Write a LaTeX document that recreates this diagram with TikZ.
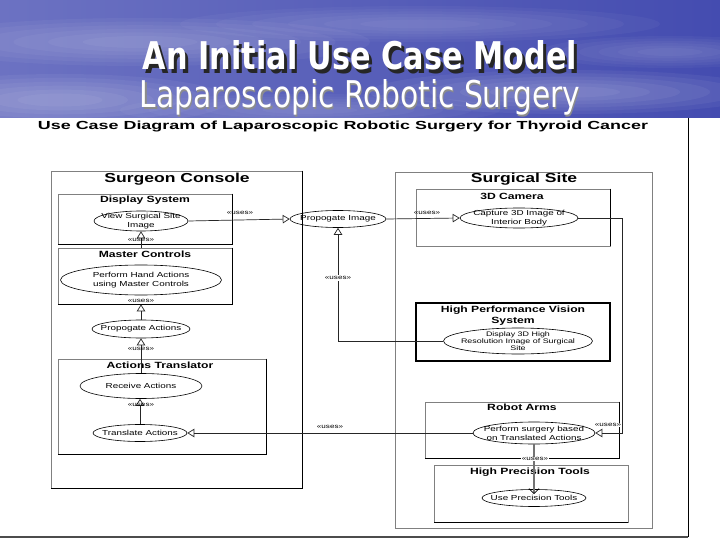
\documentclass[tikz,border=0pt]{standalone}
\usepackage{fontspec}
\setmainfont{Liberation Sans}
\newfontfamily\dg[FakeStretch=1.35]{Liberation Sans}
\newfontfamily\ttlfont{DejaVu Sans}
\usetikzlibrary{shapes.geometric,arrows.meta}
\definecolor{skyL}{RGB}{108,114,194}
\definecolor{skyR}{RGB}{68,76,176}
\newcommand{\shadowtext}[3]{\makebox[0pt][l]{\kern#1\raisebox{-#1}{\color{#2}#3}}#3}
\newcommand{\softcloud}[5]{%
  \foreach \s in {1,0.85,0.7,0.55,0.4,0.25}{%
    \fill[white, opacity=#5] (#1,#2) ellipse [x radius=\s*#3, y radius=\s*#4];}}
\begin{document}
\begin{tikzpicture}[x=1pt,y=-1pt,
  box/.style={draw=black!50, line width=0.7pt, rectangle, inner sep=0pt},
  edge/.style={draw=black, line width=1.5pt},
  uc/.style={draw=black, line width=0.6pt, ellipse, inner sep=0pt},
  uctext/.style={font=\dg\fontsize{7.3}{8.5}\selectfont, align=center, inner sep=0pt},
  btitle/.style={font=\dg\bfseries\fontsize{9}{11}\selectfont, align=center, inner sep=0pt, anchor=base},
  bigtitle/.style={font=\dg\bfseries\fontsize{13}{14}\selectfont, inner sep=0pt, anchor=base},
  lbl/.style={font=\dg\fontsize{6}{6}\selectfont, inner sep=0pt},
  conn/.style={draw=black!85, line width=0.7pt},
  tri/.style={conn, -{Triangle[open,length=7pt,width=8.5pt,line width=0.7pt]}},
]
\useasboundingbox (0,0) rectangle (720,540);
\fill[white] (0,0) rectangle (720,540);
% banner
\begin{scope}
\clip (0,0) rectangle (720,118);
\shade[left color=skyL, right color=skyR] (0,0) rectangle (720,118);
\softcloud{140}{42}{230}{24}{0.045}
\softcloud{60}{100}{170}{26}{0.05}
\softcloud{420}{24}{240}{18}{0.035}
\softcloud{570}{92}{200}{22}{0.05}
\softcloud{670}{52}{130}{16}{0.035}
\softcloud{310}{110}{190}{16}{0.035}
\end{scope}
% titles
\node[anchor=base, inner sep=0pt, text=white] (t1) at (360,70)
  {\resizebox{434pt}{29pt}{\ttlfont\bfseries\shadowtext{0.09em}{black!85}{An Initial Use Case Model}}};
\node[anchor=base, inner sep=0pt, text=white] (t2) at (360,108)
  {\resizebox{440pt}{28pt}{\ttlfont\shadowtext{0.04em}{black!45}{Laparoscopic Robotic Surgery}}};
% caption
\node[anchor=base, inner sep=0pt] (cap) at (343,130)
  {\resizebox{610pt}{8.5pt}{\bfseries Use Case Diagram of Laparoscopic Robotic Surgery for Thyroid Cancer}};
% frame lines
\coordinate (fr1) at (688,118);
\coordinate (fr2) at (688,537);
\coordinate (fr3) at (0,537);
\draw[black, line width=0.8pt] (fr1) -- (fr2);
\draw[black!70, line width=1.6pt] (fr3) -- (fr2);

% ---------- Surgeon Console ----------
\node[box, minimum width=251pt, minimum height=317pt] (sc) at (176.5,329.5) {};
\draw[edge] (sc.north east) -- (sc.south east) -- (sc.south west);
\node[bigtitle] (sct) at (177,183) {Surgeon Console};

\node[box, minimum width=174pt, minimum height=50pt] (ds) at (145,219) {};
\draw[edge] (ds.north east) -- (ds.south east) -- (ds.south west);
\node[btitle] (dst) at (145,202.5) {Display System};

\node[box, minimum width=174pt, minimum height=56pt] (mc) at (145,276) {};
\draw[edge] (mc.north east) -- (mc.south east) -- (mc.south west);
\node[btitle] (mct) at (145,257.5) {Master Controls};

\node[box, minimum width=208pt, minimum height=95pt] (at) at (162,406.5) {};
\draw[edge] (at.north east) -- (at.south east) -- (at.south west);
\node[btitle] (att) at (160,368.5) {Actions Translator};

% ---------- Surgical Site ----------
\node[box, minimum width=257pt, minimum height=356pt] (ss) at (523.5,350) {};
\node[bigtitle] (sst) at (524,183) {Surgical Site};

\node[box, minimum width=194pt, minimum height=57pt] (cam) at (513,217.5) {};
\draw[edge] (cam.north east) -- (cam.south east);
\node[btitle] (camt) at (512,199.5) {3D Camera};

\node[box, draw=black, line width=1.4pt, minimum width=194pt, minimum height=58pt] (hpvs) at (513,332) {};
\node[btitle] (hpvst) at (513,323.5) {High Performance Vision\\System};

\node[box, minimum width=194pt, minimum height=56pt] (ra) at (522,430) {};
\draw[edge] (ra.north east) -- (ra.south east) -- (ra.south west);
\node[btitle] (rat) at (522,410.5) {Robot Arms};

\node[box, minimum width=194pt, minimum height=57pt] (hpt) at (531,493.5) {};
\draw[edge] (hpt.south east) -- (hpt.south west);
\node[btitle] (hptt) at (530,474.5) {High Precision Tools};

% ---------- use cases ----------
\node[uc, minimum width=94pt, minimum height=20pt] (vssi) at (141,221) {};
\node[uctext] at (vssi.center) {View Surgical Site\\Image};
\node[uc, minimum width=161pt, minimum height=30pt] (pha) at (141,280) {};
\node[uctext] at (pha.center) {Perform Hand Actions\\using Master Controls};
\node[uc, minimum width=98pt, minimum height=18pt] (pa) at (141,329) {};
\node[uctext] at (pa.center) {Propogate Actions};
\node[uc, minimum width=122pt, minimum height=25pt] (rca) at (141,386) {};
\node[uctext] at (rca.center) {Receive Actions};
\node[uc, minimum width=94pt, minimum height=17pt] (ta) at (140,433) {};
\node[uctext] at (ta.center) {Translate Actions};
\node[uc, minimum width=96pt, minimum height=17pt] (pi) at (338,219) {};
\node[uctext] at (pi.center) {Propogate Image};
\node[uc, minimum width=118pt, minimum height=20pt] (c3d) at (519,218) {};
\node[uctext] at (c3d.center) {Capture 3D Image of\\Interior Body};
\node[uc, minimum width=149pt, minimum height=26pt] (d3d) at (518,341) {};
\node[uctext, font=\dg\fontsize{6.6}{7}\selectfont] at (d3d.center) {Display 3D High\\Resolution Image of Surgical\\Site};
\node[uc, minimum width=122pt, minimum height=22pt] (ps) at (534,433) {};
\node[uctext, font=\dg\fontsize{7.3}{8.8}\selectfont] at (ps.center) {Perform surgery based\\on Translated Actions};
\node[uc, minimum width=104pt, minimum height=17pt] (upt) at (534,498) {};
\node[uctext] at (upt.center) {Use Precision Tools};

% ---------- connectors ----------
\draw[tri] (vssi.east) -- (pi.west);
\node[lbl] (l1) at (240,213) {«uses»};
\draw[tri] (vssi.south |- mc.north) -- (vssi.south);
\node[lbl] (l2) at (141,239.5) {«uses»};
\draw[tri] (pa.north) -- (pa.north |- mc.south);
\node[lbl] (l3) at (141,301) {«uses»};
\draw[tri] (rca.north) -- (pa.south);
\node[lbl] (l4) at (141,349) {«uses»};
\draw[tri] (ta.north) -- (ta.north |- rca.south);
\node[lbl] (l5) at (141,405) {«uses»};
\draw[tri] (ps.west) -- (ta.east);
\node[lbl] (l6) at (330,427) {«uses»};
\draw[tri] (pi.east) -- (c3d.west);
\node[lbl] (l7) at (427,212.5) {«uses»};
\draw[tri] (d3d.west) -- (d3d.west -| pi.south) -- (pi.south);
\node[lbl, fill=white, inner sep=1pt] (l8) at (338,278) {«uses»};
\coordinate (rt) at (622,218);
\draw[tri] (c3d.east) -- (rt) -- (rt |- ps.east) -- (ps.east);
\node[lbl, fill=white, inner sep=0.5pt] (l9) at (608,425) {«uses»};
\draw[draw=black!55, line width=2.6pt, -{Straight Barb[length=5pt,width=10pt,line width=0.8pt,color=black]}] (ps.south) -- ([yshift=-5pt]upt.north);
\node[lbl, fill=white, inner sep=0.5pt] (l10) at (535,459) {«uses»};
\end{tikzpicture}
\end{document}
